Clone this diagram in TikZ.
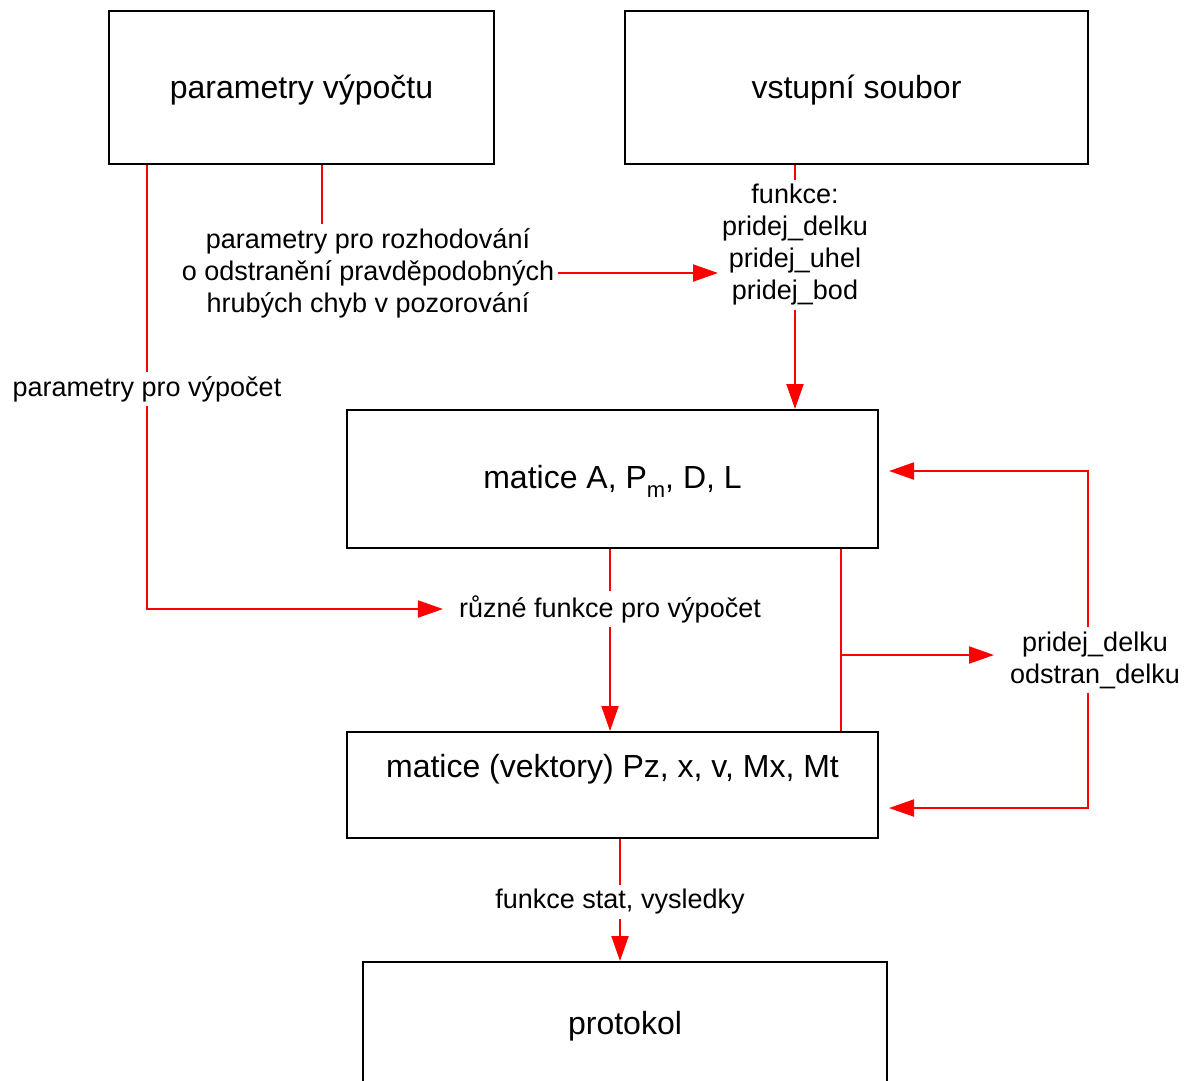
\documentclass[tikz,border=0pt]{standalone}
\usepackage{fontspec}
\setmainfont{Liberation Sans}
\usetikzlibrary{positioning,arrows.meta,calc}
\tikzset{
    block/.style = {
        draw,
        shape=rectangle,
        line width=2pt,
        font=\fontsize{32}{38}\selectfont
    },
    note/.style = {
        shape=rectangle,
        align=center,
        inner sep=4pt,
        yshift=-2pt,
        font=\fontsize{27}{32}\selectfont
    },
    flow/.style = {
        draw,
        red,
        line width=2pt
    },
    >={Triangle[length=25pt,width=17pt]},
}
\begin{document}
\begin{tikzpicture}[x=1pt,y=-1pt]
            \useasboundingbox (0,0) rectangle (1188,1080);

            \node[block, minimum width=385pt, minimum height=153pt, text height=24pt, text depth=2pt] (parbox) at (301.5,87.5) {parametry výpočtu};
            \node[block, minimum width=463pt, minimum height=153pt, text height=24pt, text depth=2pt] (vstbox) at (856.5,87.5) {vstupní soubor};
            \node[block, minimum width=531pt, minimum height=138pt, text height=23pt, text depth=5pt] (matA) at (612.5,479) {matice A, P\raisebox{-9pt}{\fontsize{22}{26}\selectfont m}, D, L};
            \node[block, minimum width=531pt, minimum height=106pt, text height=22pt, text depth=37pt] (matPz) at (612.5,785) {matice (vektory) Pz, x, v, Mx, Mt};
            \node[block, minimum width=524pt, minimum height=124pt, text height=24pt, text depth=3pt] (protokol) at (625,1024) {protokol};

            \node[note] (lblvyp) at (147,387) {parametry pro výpočet};
            \node[note] (lblroz) at (368,271) {parametry pro rozhodování\\o odstranění pravděpodobných\\hrubých chyb v pozorování};
            \node[note] (lblfun) at (795,243) {funkce:\\pridej\_delku\\pridej\_uhel\\pridej\_bod};
            \node[note] (lblruz) at (610,607) {různé funkce pro výpočet};
            \node[note] (lbldel) at (1095,658) {pridej\_delku\\odstran\_delku};
            \node[note] (lblstat) at (620,900) {funkce stat, vysledky};
            \coordinate (split) at (841,655);

            \path[flow] (parbox.south -| lblvyp.north) -- (lblvyp.north);
            \path[flow, ->, shorten >=12pt] (lblvyp.south) |- (lblruz.west);

            \path[flow] ([xshift=20.5pt]parbox.south) -- ([xshift=20.5pt]parbox.south |- lblroz.north);
            \path[flow, ->] (lblroz.east) -- (lblroz.east -| lblfun.west);

            \path[flow] (vstbox.south -| lblfun.north) -- (lblfun.north);
            \path[flow, ->] (lblfun.south) -- (lblfun.south |- matA.north);

            \path[flow] (matA.south -| lblruz.north) -- (lblruz.north);
            \path[flow, ->] (lblruz.south) -- (lblruz.south |- matPz.north);

            \path[flow] (matA.south -| split) -- (matPz.north -| split);
            \path[flow, ->, shorten >=12pt] (split) -- (split -| lbldel.west);
            \path[flow, ->, shorten >=10pt] ([xshift=-7pt]lbldel.north) |- ([yshift=8pt]matA.east);
            \path[flow, ->, shorten >=10pt] ([xshift=-7pt]lbldel.south) |- ([yshift=-23pt]matPz.east);

            \path[flow] (matPz.south -| lblstat.north) -- (lblstat.north);
            \path[flow, ->] (lblstat.south) -- (lblstat.south |- protokol.north);

        \end{tikzpicture}
\end{document}
